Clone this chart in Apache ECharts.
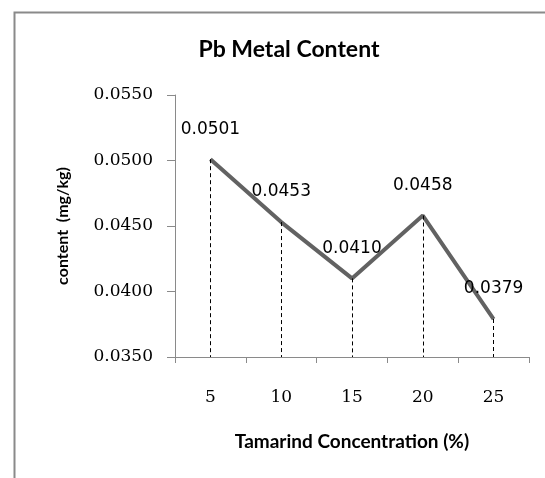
<!DOCTYPE html>
<html><head><meta charset="utf-8">
<script src="https://cdn.jsdelivr.net/npm/echarts@6/dist/echarts.min.js"></script>
<style>html,body{margin:0;padding:0;background:#fff}#c{width:545px;height:478px}</style>
</head><body><div id="c"></div>
<script>
const categories = ['5', '10', '15', '20', '25'];
const values = [0.0501, 0.0453, 0.0410, 0.0458, 0.0379];
const yTicks = [0.0350, 0.0400, 0.0450, 0.0500, 0.0550];
const titleText = 'Pb Metal Content';
const xName = 'Tamarind Concentration (%)';
const yName = 'content  (mg/kg)';

const yMin = yTicks[0], yMax = yTicks[yTicks.length - 1];
const chart = echarts.init(document.getElementById('c'), null, {renderer: 'canvas'});
const dropLines = values.map((v, i) => [
  {coord: [categories[i], v]},
  {coord: [categories[i], yMin]}
]);
chart.setOption({
  animation: false,
  backgroundColor: '#fff',
  graphic: [{
    type: 'rect', left: 12, top: 10, z: 0,
    shape: {width: 600, height: 600},
    style: {fill: 'none', stroke: '#8a8a8a', lineWidth: 2}
  }],
  title: {
    text: titleText, left: 284, top: 33, textAlign: 'center',
    textStyle: {fontFamily: 'Lato', fontWeight: 'bold', fontSize: 23, color: '#000'}
  },
  grid: {left: 175, right: 16, top: 95, bottom: 121, containLabel: false},
  xAxis: {
    type: 'category', data: categories, boundaryGap: true,
    name: xName, nameLocation: 'middle', nameGap: 75,
    nameTextStyle: {fontFamily: 'Lato', fontWeight: 'bold', fontSize: 19, color: '#000'},
    axisLine: {lineStyle: {color: '#8a8a8a', width: 1}},
    axisTick: {show: true, inside: false, length: 6, alignWithLabel: false, lineStyle: {color: '#8a8a8a'}},
    axisLabel: {margin: 32, fontFamily: 'DejaVu Serif', fontSize: 17, color: '#000'},
    splitLine: {show: false}
  },
  yAxis: {
    type: 'value', min: yMin, max: yMax, interval: 0.005,
    name: yName, nameLocation: 'middle', nameGap: 104, nameRotate: 90,
    nameTextStyle: {fontFamily: 'Lato', fontWeight: 'bold', fontSize: 16, color: '#000'},
    axisLine: {show: true, lineStyle: {color: '#8a8a8a', width: 1}},
    axisTick: {show: true, inside: false, length: 8, lineStyle: {color: '#8a8a8a'}},
    axisLabel: {margin: 22, fontFamily: 'DejaVu Serif', fontSize: 17, color: '#000',
      formatter: v => v.toFixed(4)},
    splitLine: {show: false}
  },
  series: [{
    type: 'line', data: values, symbol: 'circle', symbolSize: 1, showSymbol: true,
    itemStyle: {color: 'rgba(0,0,0,0)'},
    lineStyle: {color: '#626262', width: 4},
    label: {show: true, position: 'top', distance: 21, fontFamily: 'DejaVu Sans', fontSize: 17, color: '#000',
      formatter: p => p.value.toFixed(4)},
    markLine: {
      silent: true, symbol: ['none', 'none'], label: {show: false},
      lineStyle: {color: '#000', type: [4, 3], width: 1},
      data: dropLines
    },
    z: 3
  }]
});
</script></body></html>
